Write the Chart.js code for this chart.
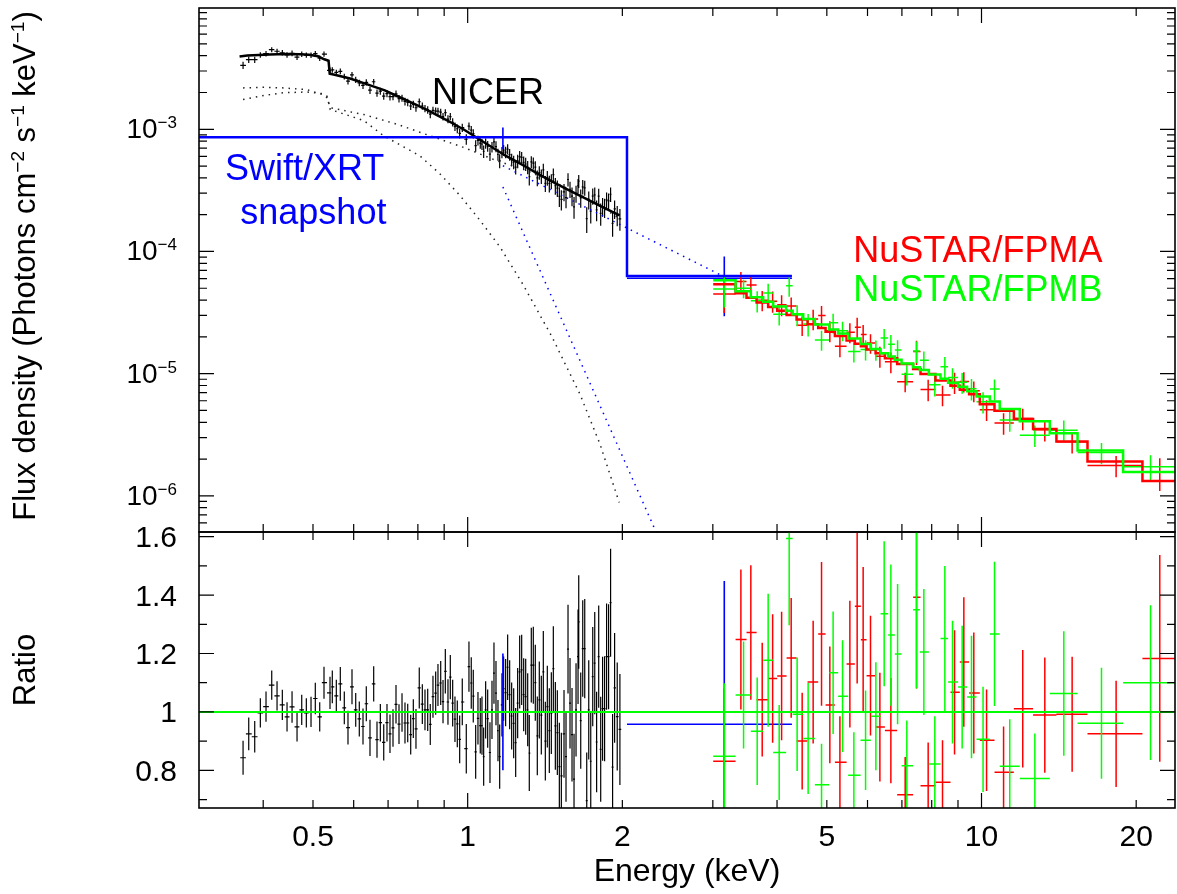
<!DOCTYPE html>
<html>
<head>
<meta charset="utf-8">
<title>NICER / Swift-XRT / NuSTAR spectrum</title>
<script src="https://cdn.jsdelivr.net/npm/chart.js@4.4.1/dist/chart.umd.min.js"></script>
<style>
  html, body { margin: 0; padding: 0; background: #fff; }
  #page { position: relative; width: 1177px; height: 894px; overflow: hidden; }
  .box { position: absolute; left: 0; width: 1177px; }
  #topBox { top: 0; height: 540px; }
  #botBox { top: 524px; height: 370px; }
</style>
</head>
<body>
<div id="page">
  <div class="box" id="topBox"><canvas id="spec"></canvas></div>
  <div class="box" id="botBox"><canvas id="ratio"></canvas></div>
</div>
<script>
// Unfolded X-ray spectrum (NICER, Swift/XRT, NuSTAR FPMA/FPMB) + data/model ratio panel.
const FONT = '"Liberation Sans", Arial, Helvetica, sans-serif';
const BLACK = '#000000', BLUE = '#0000ff', RED = '#ff0000', GREEN = '#00ff00';

// axis limits and labelled ticks
const X_MIN = 0.3, X_MAX = 23.8;
const F_MIN = 5.06e-7, F_MAX = 9.83e-3;
const R_MIN = 0.671, R_MAX = 1.616;
const energyTicks = [0.5, 1, 2, 5, 10, 20];
const fluxDecades = [-6, -5, -4, -3];
const ratioTicks = [0.8, 1, 1.2, 1.4, 1.6];

// NICER data (keV, photons cm-2 s-1 keV-1, ratio, 1-sigma ratio error)
const nicerE = [
  0.3655, 0.3749, 0.3851, 0.3949, 0.4051, 0.4156, 0.4256, 0.4358, 0.4451, 0.4552,
  0.4655, 0.4754, 0.4853, 0.4956, 0.5052, 0.5153, 0.5253, 0.5396, 0.5452, 0.5551,
  0.5651, 0.5753, 0.5849, 0.5955, 0.6055, 0.6153, 0.6256, 0.6349, 0.6455, 0.6563,
  0.6661, 0.6761, 0.6865, 0.6966, 0.7060, 0.7156, 0.7253, 0.7351, 0.7451, 0.7551,
  0.7644, 0.7747, 0.7838, 0.7932, 0.8050, 0.8161, 0.8259, 0.8360, 0.8457, 0.8560,
  0.8664, 0.8754, 0.8862, 0.8954, 0.9047, 0.9155, 0.9251, 0.9350, 0.9447, 0.9546,
  0.9648, 0.9761, 0.9938, 1.0058, 1.0162, 1.0254, 1.0365, 1.0472, 1.0581, 1.0662,
  1.0743, 1.0839, 1.0938, 1.1051, 1.1151, 1.1251, 1.1353, 1.1454, 1.1542, 1.1660,
  1.1749, 1.1855, 1.1962, 1.2070, 1.2179, 1.2289, 1.2400, 1.2511, 1.2624, 1.2738,
  1.2853, 1.2969, 1.3086, 1.3180, 1.3299, 1.3419, 1.3540, 1.3662, 1.3785, 1.3910,
  1.4035, 1.4162, 1.4289, 1.4418, 1.4548, 1.4679, 1.4812, 1.4945, 1.5080, 1.5216,
  1.5399, 1.5538, 1.5678, 1.5819, 1.5962, 1.6106, 1.6251, 1.6398, 1.6449, 1.6597,
  1.6747, 1.6898, 1.7050, 1.7204, 1.7359, 1.7515, 1.7673, 1.7823, 1.7989, 1.8151,
  1.8305, 1.8470, 1.8637, 1.8805, 1.8974, 1.9145, 1.9318, 1.9546, 1.9782];
const nicerFlux = [
  3.34e-3, 3.71e-3, 3.71e-3, 4.06e-3, 4.16e-3, 4.48e-3, 4.35e-3, 4.23e-3, 4.06e-3, 4.19e-3,
  3.89e-3, 4.11e-3, 4.05e-3, 4.04e-3, 4.16e-3, 3.82e-3, 4.12e-3, 3.04e-3, 3.06e-3, 2.92e-3,
  2.98e-3, 2.70e-3, 2.48e-3, 2.79e-3, 2.54e-3, 2.40e-3, 2.29e-3, 2.42e-3, 2.09e-3, 2.45e-3,
  1.98e-3, 2.05e-3, 1.87e-3, 1.96e-3, 1.85e-3, 1.85e-3, 1.95e-3, 1.78e-3, 1.80e-3, 1.69e-3,
  1.66e-3, 1.55e-3, 1.60e-3, 1.50e-3, 1.68e-3, 1.55e-3, 1.48e-3, 1.44e-3, 1.33e-3, 1.43e-3,
  1.41e-3, 1.41e-3, 1.38e-3, 1.27e-3, 1.37e-3, 1.21e-3, 1.27e-3, 1.14e-3, 1.05e-3, 1.01e-3,
  9.26e-4, 1.03e-3, 8.29e-4, 1.06e-3, 9.84e-4, 9.21e-4, 7.34e-4, 8.11e-4, 7.69e-4, 7.55e-4,
  6.59e-4, 7.67e-4, 7.28e-4, 6.27e-4, 7.17e-4, 7.88e-4, 7.22e-4, 6.22e-4, 5.52e-4, 6.49e-4,
  6.74e-4, 6.50e-4, 6.89e-4, 6.21e-4, 5.64e-4, 5.39e-4, 4.91e-4, 5.53e-4, 5.98e-4, 5.90e-4,
  5.36e-4, 5.20e-4, 4.89e-4, 4.09e-4, 5.41e-4, 5.28e-4, 4.90e-4, 4.00e-4, 4.43e-4, 4.13e-4,
  4.66e-4, 3.61e-4, 4.00e-4, 3.60e-4, 3.75e-4, 4.25e-4, 3.45e-4, 3.30e-4, 2.83e-4, 2.67e-4,
  3.07e-4, 2.76e-4, 3.88e-4, 3.23e-4, 2.84e-4, 2.32e-4, 2.98e-4, 3.45e-4, 3.77e-4, 2.75e-4,
  3.38e-4, 3.32e-4, 1.86e-4, 2.65e-4, 2.14e-4, 2.84e-4, 2.90e-4, 2.19e-4, 2.84e-4, 2.05e-4,
  2.33e-4, 2.29e-4, 2.64e-4, 2.59e-4, 2.94e-4, 1.70e-4, 2.23e-4, 1.98e-4, 1.85e-4];
const nicerRatio = [
  0.843, 0.925, 0.915, 0.997, 1.018, 1.092, 1.055, 1.024, 0.983, 1.017,
  0.949, 1.007, 0.997, 1.000, 1.046, 0.983, 1.100, 1.065, 1.086, 1.055,
  1.096, 1.014, 0.946, 1.086, 1.007, 0.976, 0.950, 1.028, 0.911, 1.096,
  0.905, 0.963, 0.896, 0.963, 0.925, 0.945, 1.026, 0.958, 0.998, 0.962,
  0.962, 0.922, 0.977, 0.942, 1.082, 1.027, 1.007, 1.007, 0.957, 1.052,
  1.064, 1.092, 1.099, 1.035, 1.139, 1.034, 1.119, 1.030, 0.975, 0.959,
  0.906, 1.034, 0.874, 1.155, 1.099, 1.054, 0.863, 0.978, 0.953, 0.953,
  0.847, 1.007, 0.977, 0.861, 1.007, 1.133, 1.064, 0.936, 0.847, 1.024,
  1.080, 1.066, 1.153, 1.059, 0.986, 0.961, 0.895, 1.030, 1.137, 1.144,
  1.059, 1.052, 1.007, 0.859, 1.160, 1.160, 1.100, 0.918, 1.041, 0.989,
  1.137, 0.900, 1.018, 0.936, 0.996, 1.148, 0.952, 0.929, 0.813, 0.781,
  0.925, 0.847, 1.215, 1.030, 0.922, 0.770, 1.007, 1.189, 1.308, 0.970,
  1.217, 1.217, 0.696, 1.007, 0.831, 1.121, 1.167, 0.897, 1.189, 0.872,
  1.011, 1.011, 1.189, 1.189, 1.374, 0.811, 1.082, 0.984, 0.940];
const nicerErr = [
  0.058, 0.056, 0.054, 0.050, 0.052, 0.050, 0.050, 0.052, 0.050, 0.054,
  0.050, 0.052, 0.050, 0.052, 0.054, 0.050, 0.055, 0.055, 0.056, 0.055,
  0.058, 0.056, 0.058, 0.060, 0.058, 0.060, 0.062, 0.060, 0.062, 0.060,
  0.062, 0.064, 0.062, 0.064, 0.066, 0.064, 0.066, 0.068, 0.066, 0.070,
  0.066, 0.068, 0.066, 0.068, 0.070, 0.068, 0.070, 0.072, 0.070, 0.072,
  0.074, 0.072, 0.075, 0.074, 0.076, 0.078, 0.076, 0.080, 0.078, 0.080,
  0.082, 0.080, 0.085, 0.086, 0.088, 0.090, 0.092, 0.090, 0.095, 0.100,
  0.100, 0.098, 0.100, 0.104, 0.100, 0.105, 0.110, 0.105, 0.110, 0.108,
  0.110, 0.115, 0.112, 0.118, 0.115, 0.120, 0.118, 0.120, 0.125, 0.120,
  0.125, 0.130, 0.125, 0.130, 0.128, 0.132, 0.130, 0.135, 0.132, 0.135,
  0.140, 0.135, 0.140, 0.145, 0.140, 0.145, 0.150, 0.145, 0.150, 0.148,
  0.150, 0.155, 0.152, 0.155, 0.160, 0.155, 0.160, 0.162, 0.160, 0.165,
  0.165, 0.170, 0.165, 0.170, 0.172, 0.170, 0.175, 0.172, 0.175, 0.180,
  0.178, 0.180, 0.182, 0.180, 0.185, 0.182, 0.188, 0.185, 0.190];

// NICER total model and its two components (dotted)
const nicerModelE = [0.3598, 0.3725, 0.3925, 0.4121, 0.4418, 0.4716, 0.4914, 0.5112, 0.5260, 0.5361,
  0.5389, 0.5508, 0.5904, 0.6401, 0.6898, 0.7395, 0.7890, 0.8385, 0.8885, 0.9384,
  0.9879, 1.0874, 1.1872, 1.2868, 1.3868, 1.4861, 1.5866, 1.6866, 1.7865, 1.8866, 1.9765];
const nicerModelF = [3.94e-3, 4.01e-3, 4.06e-3, 4.10e-3, 4.13e-3, 4.12e-3, 4.07e-3, 3.96e-3, 3.74e-3, 3.64e-3,
  2.85e-3, 2.79e-3, 2.60e-3, 2.32e-3, 2.08e-3, 1.82e-3, 1.61e-3, 1.42e-3, 1.25e-3, 1.11e-3,
  9.82e-4, 7.62e-4, 6.05e-4, 5.04e-4, 4.20e-4, 3.59e-4, 3.12e-4, 2.74e-4, 2.43e-4, 2.17e-4, 1.97e-4];
const nicerPowE = [0.3655, 0.4010, 0.4385, 0.4868, 0.5206, 0.5325, 0.5403, 0.6277, 0.7286, 0.8457,
  0.9822, 1.1403, 1.3045, 1.5120, 1.7296, 1.9782];
const nicerPowF = [2.18e-3, 2.21e-3, 2.18e-3, 2.11e-3, 1.93e-3, 1.81e-3, 1.50e-3, 1.32e-3, 1.10e-3, 8.83e-4,
  7.10e-4, 5.52e-4, 4.58e-4, 3.51e-4, 2.65e-4, 1.85e-4];
const nicerBbE = [0.3655, 0.4010, 0.4385, 0.4868, 0.5206, 0.5325, 0.5403, 0.6277, 0.6865, 0.8076,
  0.8834, 0.9661, 1.0566, 1.1556, 1.2829, 1.4566, 1.6539, 1.8088, 1.9720];
const nicerBbF = [1.75e-3, 1.89e-3, 1.99e-3, 2.02e-3, 1.96e-3, 1.86e-3, 1.45e-3, 1.18e-3, 8.83e-4, 6.06e-4,
  4.31e-4, 2.87e-4, 1.80e-4, 1.09e-4, 5.32e-5, 2.03e-5, 6.79e-6, 2.66e-6, 8.83e-7];

// Swift/XRT snapshot (two wide bins)
const swiftEdges = [0.29, 2.042, 4.276];
const swiftE = [1.171, 3.158];
const swiftFlux = [8.6e-4, 6.03e-5];
const swiftModel = [8.6e-4, 6.3e-5];
const swiftRatio = [1.0, 0.958];
const swiftErr = [0.2, 0.49];
const swiftPowF = [5.03e-4, 6.2e-5];
const swiftBbF = [3.37e-4, 2.8e-8];

// NuSTAR FPMA
const fpmaEdges = [3.005, 3.322, 3.489, 3.650, 3.844, 4.003, 4.175, 4.366, 4.586, 4.810, 4.972,
  5.184, 5.463, 5.669, 5.824, 5.975, 6.221, 6.486, 6.853, 7.361, 7.609, 8.137, 8.703,
  9.073, 9.460, 9.924, 10.60, 11.56, 12.60, 13.99, 16.08, 20.57, 26.0];
const fpmaE = [3.158, 3.402, 3.557, 3.743, 3.922, 4.083, 4.262, 4.477, 4.703, 4.883, 5.068,
  5.302, 5.544, 5.728, 5.884, 6.081, 6.342, 6.662, 7.103, 7.474, 7.874, 8.397, 8.862,
  9.239, 9.661, 10.23, 11.04, 12.03, 13.28, 15.01, 18.28, 22.23];
const fpmaModel = [5.40e-5, 4.56e-5, 4.18e-5, 3.83e-5, 3.52e-5, 3.27e-5, 3.02e-5, 2.77e-5, 2.54e-5, 2.36e-5, 2.20e-5,
  2.03e-5, 1.87e-5, 1.76e-5, 1.68e-5, 1.58e-5, 1.47e-5, 1.34e-5, 1.20e-5, 1.09e-5, 9.95e-6, 8.80e-6, 7.97e-6,
  7.38e-6, 6.79e-6, 5.62e-6, 4.98e-6, 4.25e-6, 3.52e-6, 2.79e-6, 1.91e-6, 1.32e-6];
const fpmaFlux = [4.49e-5, 5.69e-5, 5.32e-5, 3.99e-5, 3.92e-5, 3.67e-5, 3.58e-5, 2.49e-5, 2.80e-5, 2.99e-5, 2.25e-5,
  1.68e-5, 2.18e-5, 2.40e-5, 2.09e-5, 1.78e-5, 1.39e-5, 1.25e-5, 8.59e-6, 1.52e-5, 7.43e-6, 6.68e-6, 8.50e-6,
  8.64e-6, 7.23e-6, 5.07e-6, 3.95e-6, 4.30e-6, 3.48e-6, 2.77e-6, 1.77e-6, 1.56e-6];
const fpmaRatio = [0.831, 1.248, 1.272, 1.042, 1.114, 1.123, 1.185, 0.900, 1.102, 1.267, 1.024,
  0.828, 1.164, 1.362, 1.247, 1.124, 0.948, 0.936, 0.716, 1.393, 0.747, 0.759, 1.067,
  1.171, 1.065, 0.903, 0.793, 1.011, 0.989, 0.992, 0.925, 1.183];
const fpmaErr = [0.25, 0.24, 0.23, 0.195, 0.22, 0.22, 0.205, 0.166, 0.21, 0.246, 0.20,
  0.157, 0.217, 0.265, 0.249, 0.205, 0.186, 0.18, 0.13, 0.313, 0.148, 0.144, 0.213,
  0.222, 0.207, 0.174, 0.157, 0.201, 0.197, 0.197, 0.182, 0.354];

// NuSTAR FPMB
const fpmbEdges = [3.005, 3.322, 3.557, 3.759, 3.932, 4.166, 4.290, 4.498, 4.739, 5.052, 5.260,
  5.502, 5.816, 6.090, 6.362, 6.582, 6.782, 6.989, 7.361, 7.585, 7.898, 8.322, 8.610,
  9.004, 9.376, 9.779, 10.38, 10.85, 11.87, 13.58, 15.38, 18.86, 26.0];
const fpmbE = [3.158, 3.443, 3.660, 3.844, 4.039, 4.224, 4.377, 4.598, 4.883, 5.143, 5.365,
  5.644, 5.948, 6.229, 6.465, 6.662, 6.866, 7.156, 7.474, 7.723, 8.112, 8.485, 8.782,
  9.169, 9.561, 10.07, 10.60, 11.35, 12.70, 14.46, 17.12, 21.33];
const fpmbModel = [5.81e-5, 4.73e-5, 4.23e-5, 3.88e-5, 3.55e-5, 3.28e-5, 3.06e-5, 2.80e-5, 2.52e-5, 2.30e-5, 2.13e-5,
  1.94e-5, 1.75e-5, 1.59e-5, 1.47e-5, 1.38e-5, 1.30e-5, 1.21e-5, 1.13e-5, 1.07e-5, 9.86e-6, 9.10e-6, 8.44e-6,
  7.83e-6, 7.17e-6, 6.50e-6, 5.91e-6, 5.13e-6, 4.07e-6, 3.25e-6, 2.35e-6, 1.57e-6];
const fpmbFlux = [4.93e-5, 5.00e-5, 3.95e-5, 4.57e-5, 3.06e-5, 5.23e-5, 3.04e-5, 2.55e-5, 1.89e-5, 2.61e-5, 2.25e-5,
  1.52e-5, 1.58e-5, 1.57e-5, 1.96e-5, 1.74e-5, 1.56e-5, 9.87e-6, 1.53e-5, 1.29e-5, 8.10e-6, 1.14e-5, 9.30e-6,
  8.50e-6, 7.54e-6, 5.89e-6, 7.49e-6, 4.18e-6, 3.14e-6, 3.45e-6, 2.26e-6, 1.73e-6];
const fpmbRatio = [0.848, 1.058, 0.934, 1.177, 0.861, 1.594, 0.992, 0.909, 0.751, 1.134, 1.054,
  0.783, 0.903, 0.985, 1.336, 1.263, 1.198, 0.816, 1.350, 1.205, 0.822, 1.251, 1.102,
  1.085, 1.051, 0.906, 1.267, 0.814, 0.772, 1.063, 0.961, 1.100];
const fpmbErr = [0.25, 0.183, 0.184, 0.228, 0.163, 0.297, 0.194, 0.19, 0.14, 0.21, 0.191,
  0.147, 0.17, 0.185, 0.248, 0.242, 0.24, 0.155, 0.27, 0.216, 0.163, 0.249, 0.21,
  0.21, 0.21, 0.18, 0.247, 0.161, 0.154, 0.213, 0.19, 0.265];

// ---------- helpers ----------
const pts = (xs, ys) => xs.map((x, i) => ({ x, y: ys[i] }));
const hist = (edges, vals) => vals.map((v, i) => ({ x: edges[i], y: v }))
  .concat([{ x: edges[vals.length], y: vals[vals.length - 1] }]);

// NICER channels are contiguous: each bin reaches half-way (in log) to its neighbours
function nicerBin(i) {
  const e = nicerE, n = e.length;
  const lo = i > 0 ? Math.sqrt(e[i - 1] * e[i]) : e[0] * Math.sqrt(e[0] / e[1]);
  const hi = i < n - 1 ? Math.sqrt(e[i] * e[i + 1]) : e[i] * Math.sqrt(e[i] / e[i - 1]);
  return [lo, hi];
}
function nicerBars(top) {
  return nicerE.map((e, i) => {
    const [xl, xh] = nicerBin(i);
    const y = top ? nicerFlux[i] : nicerRatio[i];
    const d = top ? nicerFlux[i] * nicerErr[i] / nicerRatio[i] : nicerErr[i];
    return { x: e, xl, xh, y, yl: y - d, yh: y + d };
  });
}
function binBars(E, edges, flux, ratio, err, top) {
  return E.map((e, i) => {
    const y = top ? flux[i] : ratio[i];
    const d = top ? flux[i] * err[i] / ratio[i] : err[i];
    return { x: e, xl: Math.max(edges[i], 0.29), xh: edges[i + 1], y, yl: y - d, yh: y + d };
  });
}

function logTicks(min, max) {
  const out = [];
  for (let k = Math.floor(Math.log10(min)); k <= Math.ceil(Math.log10(max)); k++) {
    for (let m = 1; m <= 9; m++) {
      const v = m * Math.pow(10, k);
      if (v > min * 1.002 && v < max * 0.998) out.push([v, m === 1]);
    }
  }
  return out;
}
const energyMinor = logTicks(X_MIN, X_MAX);
const fluxMinor = logTicks(F_MIN, F_MAX);
const ratioMinor = [];
for (let i = 7; i <= 16; i++) ratioMinor.push([i / 10, i % 2 === 0]);

// text with superscript parts: parts = [[text, isSup], ...]
function rich(ctx, parts, size, x, y, align) {
  const f = (s) => `${s ? Math.round(size * 0.62) : size}px ${FONT}`;
  let w = 0;
  parts.forEach(([t, s]) => { ctx.font = f(s); w += ctx.measureText(t).width; });
  let cx = align === 'right' ? x - w : align === 'center' ? x - w / 2 : x;
  ctx.textAlign = 'left'; ctx.textBaseline = 'alphabetic';
  parts.forEach(([t, s]) => {
    ctx.font = f(s);
    ctx.fillText(t, cx, s ? y - size * 0.36 : y);
    cx += ctx.measureText(t).width;
  });
}

// ---------- plugins ----------
const errorBars = {
  id: 'errorBars',
  beforeDatasetsDraw(chart, args, opts) {
    const { ctx, chartArea: a, scales: { x, y } } = chart;
    const yLog = y.type === 'logarithmic';
    ctx.save();
    ctx.beginPath(); ctx.rect(a.left, a.top, a.right - a.left, a.bottom - a.top); ctx.clip();
    (opts.sets || []).forEach((s) => {
      ctx.strokeStyle = s.color; ctx.lineWidth = s.width;
      ctx.beginPath();
      s.bars.forEach((b) => {
        const px = x.getPixelForValue(b.x), py = y.getPixelForValue(b.y);
        const lo = yLog && b.yl <= 0 ? a.bottom + 5 : y.getPixelForValue(b.yl);
        ctx.moveTo(x.getPixelForValue(b.xl), py); ctx.lineTo(x.getPixelForValue(b.xh), py);
        ctx.moveTo(px, lo); ctx.lineTo(px, y.getPixelForValue(b.yh));
      });
      ctx.stroke();
    });
    ctx.restore();
  },
};

const frame = {
  id: 'frame',
  afterDraw(chart, args, o) {
    const { ctx, chartArea: a, scales: { x, y } } = chart;
    ctx.save();
    ctx.strokeStyle = BLACK; ctx.lineWidth = 1.2;
    ctx.beginPath();
    o.xTicks.forEach(([v, major]) => {
      const p = x.getPixelForValue(v), L = major ? 15 : 8;
      ctx.moveTo(p, a.bottom); ctx.lineTo(p, a.bottom - L);
      ctx.moveTo(p, a.top); ctx.lineTo(p, a.top + L);
    });
    o.yTicks.forEach(([v, major]) => {
      const p = y.getPixelForValue(v), L = major ? 15 : 8;
      ctx.moveTo(a.left, p); ctx.lineTo(a.left + L, p);
      ctx.moveTo(a.right, p); ctx.lineTo(a.right - L, p);
    });
    ctx.stroke();
    ctx.lineWidth = 1.6;
    ctx.strokeRect(a.left, a.top, a.right - a.left, a.bottom - a.top);
    ctx.fillStyle = BLACK;
    if (o.labels) o.labels(ctx, chart);
    ctx.restore();
  },
};

const line = (data, color, width, extra = {}) => Object.assign(
  { data, borderColor: color, borderWidth: width, pointRadius: 0, fill: false, tension: 0 }, extra);
const DOT = { borderDash: [1.5, 5] };
// Chart.js 'before' = horizontal run at the previous value, then the vertical jump
const STEP = { stepped: 'before' };

function baseOpts(yType, yMin, yMax, padding, sets, yTicks, labels) {
  return {
    responsive: true, maintainAspectRatio: false, animation: false, devicePixelRatio: 1, events: [],
    layout: { padding },
    plugins: { legend: { display: false }, tooltip: { enabled: false },
      errorBars: { sets }, frame: { xTicks: energyMinor, yTicks, labels } },
    scales: {
      x: { type: 'logarithmic', min: X_MIN, max: X_MAX, display: false },
      y: { type: yType, min: yMin, max: yMax, display: false },
    },
  };
}

// ---------- top panel: unfolded spectrum ----------
new Chart(document.getElementById('spec'), {
  type: 'line',
  data: { datasets: [
    line(hist(fpmbEdges, fpmbModel), GREEN, 2.5, STEP),
    line(hist(fpmaEdges, fpmaModel), RED, 2.5, STEP),
    line(hist(swiftEdges, swiftModel), BLUE, 2.5, STEP),
    line(pts(nicerModelE, nicerModelF), BLACK, 2.5),
    line(pts(swiftE, swiftPowF), BLUE, 1.5, DOT),
    line(pts(swiftE, swiftBbF), BLUE, 1.5, DOT),
    line(pts(nicerPowE, nicerPowF), '#222222', 1.5, DOT),
    line(pts(nicerBbE, nicerBbF), '#222222', 1.5, DOT),
  ] },
  plugins: [errorBars, frame],
  options: baseOpts('logarithmic', F_MIN, F_MAX, { left: 199, right: 2, top: 8, bottom: 8 }, [
    { color: BLACK, width: 1.2, bars: nicerBars(true) },
    { color: BLUE, width: 1.6, bars: binBars(swiftE, swiftEdges, swiftFlux, swiftRatio, swiftErr, true) },
    { color: RED, width: 1.5, bars: binBars(fpmaE, fpmaEdges, fpmaFlux, fpmaRatio, fpmaErr, true) },
    { color: GREEN, width: 1.5, bars: binBars(fpmbE, fpmbEdges, fpmbFlux, fpmbRatio, fpmbErr, true) },
  ], fluxMinor, (ctx, chart) => {
    const { chartArea: a, scales: { x, y } } = chart;
    fluxDecades.forEach((k) => {
      rich(ctx, [['10', false], ['\u2212' + Math.abs(k), true]], 28, 177, y.getPixelForValue(Math.pow(10, k)) + 9, 'right');
    });
    ctx.save();
    ctx.translate(35, (a.top + a.bottom) / 2 - 4);
    ctx.rotate(-Math.PI / 2);
    rich(ctx, [['Flux density (Photons cm', false], ['\u22122', true], [' s', false], ['\u22121', true],
      [' keV', false], ['\u22121', true], [')', false]], 31, 0, 0, 'center');
    ctx.restore();
    const note = (t, e, f, color, align) => {
      ctx.fillStyle = color; ctx.textAlign = align; ctx.textBaseline = 'alphabetic';
      ctx.fillText(t, x.getPixelForValue(e), y.getPixelForValue(f));
    };
    ctx.font = `36px ${FONT}`;
    note('NICER', 0.852, 1.61e-3, BLACK, 'left');
    note('Swift/XRT', 0.337, 3.85e-4, BLUE, 'left');
    note('snapshot', 0.361, 1.68e-4, BLUE, 'left');
    note('NuSTAR/FPMA', 17.2, 8.2e-5, RED, 'right');
    note('NuSTAR/FPMB', 17.2, 3.94e-5, GREEN, 'right');
  }),
});

// ---------- bottom panel: data / model ratio ----------
new Chart(document.getElementById('ratio'), {
  type: 'line',
  data: { datasets: [
    line([{ x: X_MIN, y: 1 }, { x: X_MAX, y: 1 }], GREEN, 2),
  ] },
  plugins: [errorBars, frame],
  options: baseOpts('linear', R_MIN, R_MAX, { left: 199, right: 2, top: 8, bottom: 86 }, [
    { color: BLACK, width: 1.2, bars: nicerBars(false) },
    { color: BLUE, width: 1.6, bars: binBars(swiftE, swiftEdges, swiftFlux, swiftRatio, swiftErr, false) },
    { color: RED, width: 1.5, bars: binBars(fpmaE, fpmaEdges, fpmaFlux, fpmaRatio, fpmaErr, false) },
    { color: GREEN, width: 1.5, bars: binBars(fpmbE, fpmbEdges, fpmbFlux, fpmbRatio, fpmbErr, false) },
  ], ratioMinor, (ctx, chart) => {
    const { chartArea: a, scales: { x, y } } = chart;
    ctx.font = `30px ${FONT}`;
    ctx.textBaseline = 'alphabetic';
    ctx.textAlign = 'right';
    ratioTicks.forEach((v) => ctx.fillText(String(v), 177, y.getPixelForValue(v) + 10.5));
    ctx.textAlign = 'center';
    energyTicks.forEach((v) => ctx.fillText(String(v), x.getPixelForValue(v), a.bottom + 38));
    ctx.font = `32px ${FONT}`;
    ctx.fillText('Energy (keV)', (a.left + a.right) / 2, a.bottom + 73);
    ctx.save();
    ctx.translate(35, (a.top + a.bottom) / 2);
    ctx.rotate(-Math.PI / 2);
    ctx.font = `31px ${FONT}`;
    ctx.fillText('Ratio', 0, 0);
    ctx.restore();
  }),
});
</script>
</body>
</html>
